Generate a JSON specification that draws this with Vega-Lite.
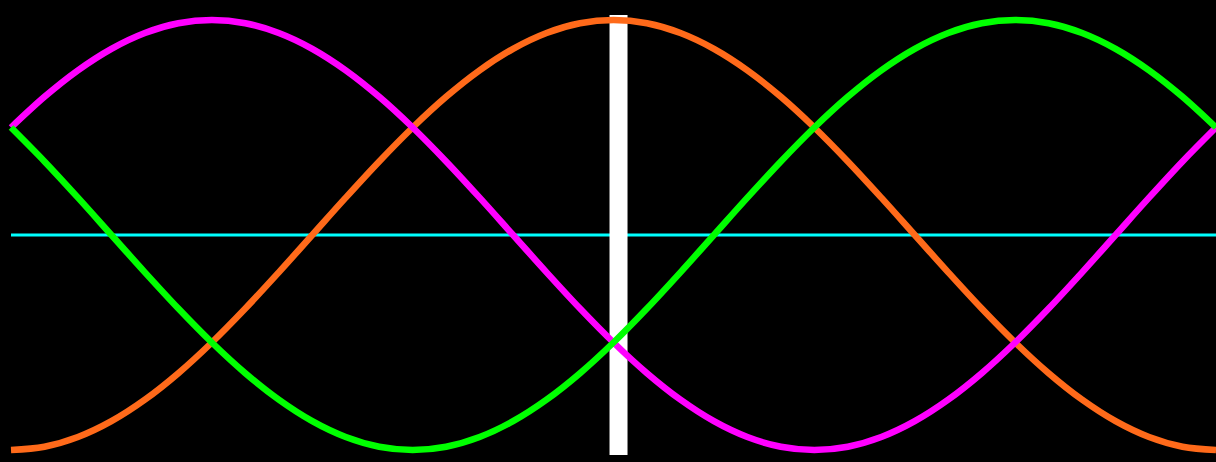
{
  "$schema": "https://vega.github.io/schema/vega-lite/v6.json",
  "autosize": {"type": "none"},
  "width": 1205,
  "height": 430,
  "padding": {"left": 11, "top": 20, "right": 0, "bottom": 12},
  "background": "#000000",
  "config": {"view": {"stroke": null}},
  "datasets": {
    "phases": [
      {"deg": 0, "L1": 0.5, "L2": -1, "L3": 0.5},
      {"deg": 10, "L1": 0.6428, "L2": -0.9848, "L3": 0.342},
      {"deg": 20, "L1": 0.766, "L2": -0.9397, "L3": 0.1736},
      {"deg": 30, "L1": 0.866, "L2": -0.866, "L3": 0},
      {"deg": 40, "L1": 0.9397, "L2": -0.766, "L3": -0.1736},
      {"deg": 50, "L1": 0.9848, "L2": -0.6428, "L3": -0.342},
      {"deg": 60, "L1": 1, "L2": -0.5, "L3": -0.5},
      {"deg": 70, "L1": 0.9848, "L2": -0.342, "L3": -0.6428},
      {"deg": 80, "L1": 0.9397, "L2": -0.1736, "L3": -0.766},
      {"deg": 90, "L1": 0.866, "L2": 0, "L3": -0.866},
      {"deg": 100, "L1": 0.766, "L2": 0.1736, "L3": -0.9397},
      {"deg": 110, "L1": 0.6428, "L2": 0.342, "L3": -0.9848},
      {"deg": 120, "L1": 0.5, "L2": 0.5, "L3": -1},
      {"deg": 130, "L1": 0.342, "L2": 0.6428, "L3": -0.9848},
      {"deg": 140, "L1": 0.1736, "L2": 0.766, "L3": -0.9397},
      {"deg": 150, "L1": 0, "L2": 0.866, "L3": -0.866},
      {"deg": 160, "L1": -0.1736, "L2": 0.9397, "L3": -0.766},
      {"deg": 170, "L1": -0.342, "L2": 0.9848, "L3": -0.6428},
      {"deg": 180, "L1": -0.5, "L2": 1, "L3": -0.5},
      {"deg": 190, "L1": -0.6428, "L2": 0.9848, "L3": -0.342},
      {"deg": 200, "L1": -0.766, "L2": 0.9397, "L3": -0.1736},
      {"deg": 210, "L1": -0.866, "L2": 0.866, "L3": 0},
      {"deg": 220, "L1": -0.9397, "L2": 0.766, "L3": 0.1736},
      {"deg": 230, "L1": -0.9848, "L2": 0.6428, "L3": 0.342},
      {"deg": 240, "L1": -1, "L2": 0.5, "L3": 0.5},
      {"deg": 250, "L1": -0.9848, "L2": 0.342, "L3": 0.6428},
      {"deg": 260, "L1": -0.9397, "L2": 0.1736, "L3": 0.766},
      {"deg": 270, "L1": -0.866, "L2": 0, "L3": 0.866},
      {"deg": 280, "L1": -0.766, "L2": -0.1736, "L3": 0.9397},
      {"deg": 290, "L1": -0.6428, "L2": -0.342, "L3": 0.9848},
      {"deg": 300, "L1": -0.5, "L2": -0.5, "L3": 1},
      {"deg": 310, "L1": -0.342, "L2": -0.6428, "L3": 0.9848},
      {"deg": 320, "L1": -0.1736, "L2": -0.766, "L3": 0.9397},
      {"deg": 330, "L1": 0, "L2": -0.866, "L3": 0.866},
      {"deg": 340, "L1": 0.1736, "L2": -0.9397, "L3": 0.766},
      {"deg": 350, "L1": 0.342, "L2": -0.9848, "L3": 0.6428},
      {"deg": 360, "L1": 0.5, "L2": -1, "L3": 0.5}
    ],
    "zero": [{"v": 0}],
    "cursor": [{"deg": 181.5, "top": 1.023, "bottom": -1.023}]
  },
  "layer": [
    {
      "data": {"name": "zero"},
      "mark": {"type": "rule", "color": "#00ffff", "strokeWidth": 3},
      "encoding": {
        "y": {"field": "v", "type": "quantitative", "scale": {"domain": [-1, 1]}, "axis": null}
      }
    },
    {
      "data": {"name": "cursor"},
      "mark": {"type": "rule", "color": "#ffffff", "strokeWidth": 18},
      "encoding": {
        "x": {"field": "deg", "type": "quantitative", "scale": {"domain": [0, 360]}, "axis": null},
        "y": {"field": "top", "type": "quantitative", "scale": {"domain": [-1, 1]}, "axis": null},
        "y2": {"field": "bottom"}
      }
    },
    {
      "data": {"name": "phases"},
      "transform": [{"fold": ["L2", "L1", "L3"], "as": ["phase", "value"]}],
      "mark": {"type": "line", "strokeWidth": 6.5, "interpolate": "monotone"},
      "encoding": {
        "x": {"field": "deg", "type": "quantitative", "scale": {"domain": [0, 360], "nice": false}, "axis": null},
        "y": {"field": "value", "type": "quantitative", "scale": {"domain": [-1, 1]}, "axis": null},
        "color": {
          "field": "phase",
          "type": "nominal",
          "scale": {"domain": ["L2", "L1", "L3"], "range": ["#ff6a1a", "#ff00ff", "#00ff00"]},
          "legend": null
        }
      }
    }
  ]
}
